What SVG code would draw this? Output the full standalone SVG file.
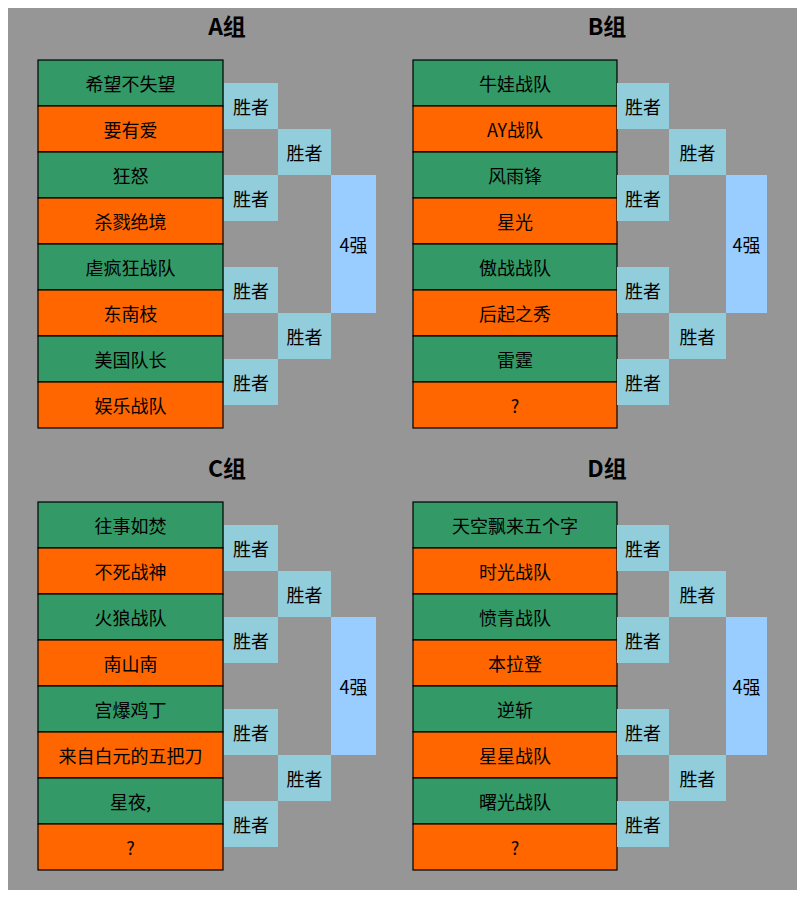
<svg xmlns="http://www.w3.org/2000/svg" width="805" height="900" viewBox="0 0 805 900">
<style>
text{font-family:"Noto Sans CJK SC","Liberation Sans",sans-serif;fill:#000;text-anchor:middle;dominant-baseline:central}
.t{font-size:18px}
.title{font-size:23px;font-weight:bold}
.g{fill:#339966;stroke:#000;stroke-width:1.2}
.o{fill:#FF6600;stroke:#000;stroke-width:1.2}
.w{fill:#92CDDC}
.f{fill:#99CCFF}
</style>
<rect x="0" y="0" width="805" height="900" fill="#fff"/>
<rect x="8" y="8" width="789" height="882" fill="#969696"/>
<g id="connectors"/>
<!-- Group A -->
<g id="groupA">
<text class="title" x="227" y="25">A组</text>
<g id="A-teams">
<rect class="g" x="38" y="60" width="185" height="46"/><text class="t" x="130.5" y="83">希望不失望</text>
<rect class="o" x="38" y="106" width="185" height="46"/><text class="t" x="130.5" y="129">要有爱</text>
<rect class="g" x="38" y="152" width="185" height="46"/><text class="t" x="130.5" y="175">狂怒</text>
<rect class="o" x="38" y="198" width="185" height="46"/><text class="t" x="130.5" y="221">杀戮绝境</text>
<rect class="g" x="38" y="244" width="185" height="46"/><text class="t" x="130.5" y="267">虐疯狂战队</text>
<rect class="o" x="38" y="290" width="185" height="46"/><text class="t" x="130.5" y="313">东南枝</text>
<rect class="g" x="38" y="336" width="185" height="46"/><text class="t" x="130.5" y="359">美国队长</text>
<rect class="o" x="38" y="382" width="185" height="46"/><text class="t" x="130.5" y="405">娱乐战队</text>
</g>
<g id="A-w1"><rect class="w" x="224" y="83" width="54" height="46"/><text class="t" x="251" y="106">胜者</text></g>
<g id="A-w2"><rect class="w" x="224" y="175" width="54" height="46"/><text class="t" x="251" y="198">胜者</text></g>
<g id="A-w3"><rect class="w" x="224" y="267" width="54" height="46"/><text class="t" x="251" y="290">胜者</text></g>
<g id="A-w4"><rect class="w" x="224" y="359" width="54" height="46"/><text class="t" x="251" y="382">胜者</text></g>
<g id="A-s1"><rect class="w" x="278" y="129" width="53" height="46"/><text class="t" x="304.5" y="152">胜者</text></g>
<g id="A-s2"><rect class="w" x="278" y="313" width="53" height="46"/><text class="t" x="304.5" y="336">胜者</text></g>
<g id="A-f"><rect class="f" x="331" y="175" width="45" height="138"/><text class="t" x="353.5" y="244">4强</text></g>
</g>
<!-- Group B -->
<g id="groupB">
<text class="title" x="607" y="25">B组</text>
<g id="B-teams">
<rect class="g" x="413" y="60" width="204" height="46"/><text class="t" x="515" y="83">牛娃战队</text>
<rect class="o" x="413" y="106" width="204" height="46"/><text class="t" x="515" y="129">AY战队</text>
<rect class="g" x="413" y="152" width="204" height="46"/><text class="t" x="515" y="175">风雨锋</text>
<rect class="o" x="413" y="198" width="204" height="46"/><text class="t" x="515" y="221">星光</text>
<rect class="g" x="413" y="244" width="204" height="46"/><text class="t" x="515" y="267">傲战战队</text>
<rect class="o" x="413" y="290" width="204" height="46"/><text class="t" x="515" y="313">后起之秀</text>
<rect class="g" x="413" y="336" width="204" height="46"/><text class="t" x="515" y="359">雷霆</text>
<rect class="o" x="413" y="382" width="204" height="46"/><text class="t" x="515" y="405">?</text>
</g>
<g id="B-w1"><rect class="w" x="617" y="83" width="52" height="46"/><text class="t" x="643" y="106">胜者</text></g>
<g id="B-w2"><rect class="w" x="617" y="175" width="52" height="46"/><text class="t" x="643" y="198">胜者</text></g>
<g id="B-w3"><rect class="w" x="617" y="267" width="52" height="46"/><text class="t" x="643" y="290">胜者</text></g>
<g id="B-w4"><rect class="w" x="617" y="359" width="52" height="46"/><text class="t" x="643" y="382">胜者</text></g>
<g id="B-s1"><rect class="w" x="669" y="129" width="57" height="46"/><text class="t" x="697.5" y="152">胜者</text></g>
<g id="B-s2"><rect class="w" x="669" y="313" width="57" height="46"/><text class="t" x="697.5" y="336">胜者</text></g>
<g id="B-f"><rect class="f" x="726" y="175" width="41" height="138"/><text class="t" x="746.5" y="244">4强</text></g>
</g>
<!-- Group C -->
<g id="groupC">
<text class="title" x="227" y="467">C组</text>
<g id="C-teams">
<rect class="g" x="38" y="502" width="185" height="46"/><text class="t" x="130.5" y="525">往事如焚</text>
<rect class="o" x="38" y="548" width="185" height="46"/><text class="t" x="130.5" y="571">不死战神</text>
<rect class="g" x="38" y="594" width="185" height="46"/><text class="t" x="130.5" y="617">火狼战队</text>
<rect class="o" x="38" y="640" width="185" height="46"/><text class="t" x="130.5" y="663">南山南</text>
<rect class="g" x="38" y="686" width="185" height="46"/><text class="t" x="130.5" y="709">宫爆鸡丁</text>
<rect class="o" x="38" y="732" width="185" height="46"/><text class="t" x="130.5" y="755">来自白元的五把刀</text>
<rect class="g" x="38" y="778" width="185" height="46"/><text class="t" x="130.5" y="801">星夜,</text>
<rect class="o" x="38" y="824" width="185" height="46"/><text class="t" x="130.5" y="847">?</text>
</g>
<g id="C-w1"><rect class="w" x="224" y="525" width="54" height="46"/><text class="t" x="251" y="548">胜者</text></g>
<g id="C-w2"><rect class="w" x="224" y="617" width="54" height="46"/><text class="t" x="251" y="640">胜者</text></g>
<g id="C-w3"><rect class="w" x="224" y="709" width="54" height="46"/><text class="t" x="251" y="732">胜者</text></g>
<g id="C-w4"><rect class="w" x="224" y="801" width="54" height="46"/><text class="t" x="251" y="824">胜者</text></g>
<g id="C-s1"><rect class="w" x="278" y="571" width="53" height="46"/><text class="t" x="304.5" y="594">胜者</text></g>
<g id="C-s2"><rect class="w" x="278" y="755" width="53" height="46"/><text class="t" x="304.5" y="778">胜者</text></g>
<g id="C-f"><rect class="f" x="331" y="617" width="45" height="138"/><text class="t" x="353.5" y="686">4强</text></g>
</g>
<!-- Group D -->
<g id="groupD">
<text class="title" x="607" y="467">D组</text>
<g id="D-teams">
<rect class="g" x="413" y="502" width="204" height="46"/><text class="t" x="515" y="525">天空飘来五个字</text>
<rect class="o" x="413" y="548" width="204" height="46"/><text class="t" x="515" y="571">时光战队</text>
<rect class="g" x="413" y="594" width="204" height="46"/><text class="t" x="515" y="617">愤青战队</text>
<rect class="o" x="413" y="640" width="204" height="46"/><text class="t" x="515" y="663">本拉登</text>
<rect class="g" x="413" y="686" width="204" height="46"/><text class="t" x="515" y="709">逆斩</text>
<rect class="o" x="413" y="732" width="204" height="46"/><text class="t" x="515" y="755">星星战队</text>
<rect class="g" x="413" y="778" width="204" height="46"/><text class="t" x="515" y="801">曙光战队</text>
<rect class="o" x="413" y="824" width="204" height="46"/><text class="t" x="515" y="847">?</text>
</g>
<g id="D-w1"><rect class="w" x="617" y="525" width="52" height="46"/><text class="t" x="643" y="548">胜者</text></g>
<g id="D-w2"><rect class="w" x="617" y="617" width="52" height="46"/><text class="t" x="643" y="640">胜者</text></g>
<g id="D-w3"><rect class="w" x="617" y="709" width="52" height="46"/><text class="t" x="643" y="732">胜者</text></g>
<g id="D-w4"><rect class="w" x="617" y="801" width="52" height="46"/><text class="t" x="643" y="824">胜者</text></g>
<g id="D-s1"><rect class="w" x="669" y="571" width="57" height="46"/><text class="t" x="697.5" y="594">胜者</text></g>
<g id="D-s2"><rect class="w" x="669" y="755" width="57" height="46"/><text class="t" x="697.5" y="778">胜者</text></g>
<g id="D-f"><rect class="f" x="726" y="617" width="41" height="138"/><text class="t" x="746.5" y="686">4强</text></g>
</g>
</svg>
